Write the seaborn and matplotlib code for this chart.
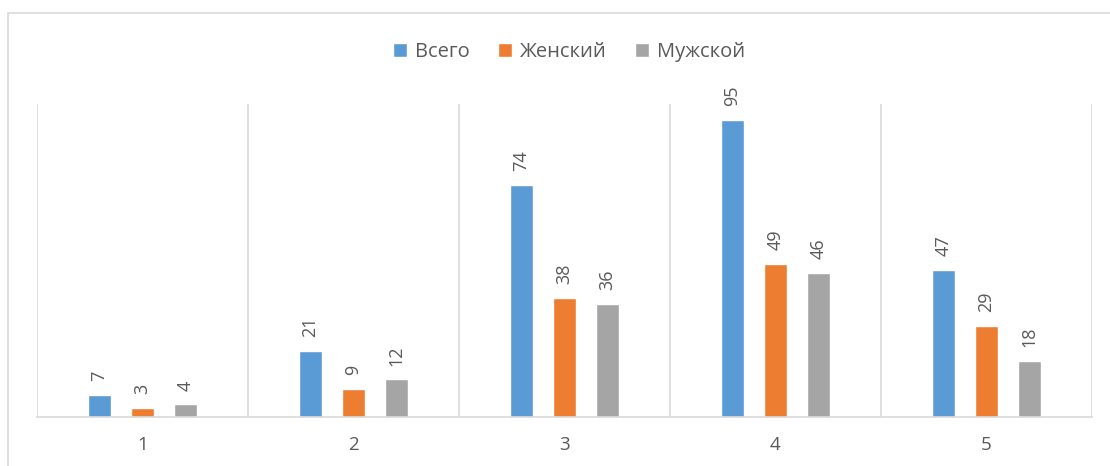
import matplotlib
matplotlib.use("Agg")
import matplotlib.pyplot as plt
from matplotlib.patches import Rectangle
from matplotlib.ticker import FixedLocator
import seaborn as sns
import pandas as pd

# Data
categories = ["1", "2", "3", "4", "5"]
series_names = ["Всего", "Женский", "Мужской"]
total = [7, 21, 74, 95, 47]
female = [3, 9, 38, 49, 29]
male = [4, 12, 36, 46, 18]

colors = ["#5B9BD5", "#ED7D31", "#A5A5A5"]
text_color = "#595959"
grid_color = "#D9D9D9"

rows = []
for name, vals in zip(series_names, [total, female, male]):
    for cat, v in zip(categories, vals):
        rows.append({"cat": cat, "series": name, "value": v})
df = pd.DataFrame(rows)

sns.set_theme(style="white")
plt.rcParams["font.family"] = ["Open Sans", "DejaVu Sans"]

fig = plt.figure(figsize=(11.1, 4.66), dpi=100)
ax = fig.add_axes([37 / 1110, 49 / 466, 1055 / 1110, 313 / 466])

sns.barplot(data=df, x="cat", y="value", hue="series", order=categories,
            hue_order=series_names, palette=colors, width=0.612, gap=0.465,
            saturation=1, ax=ax, errorbar=None)

ax.set_xlim(-0.5, 4.5)
ax.set_ylim(0, 100)
ax.set_xlabel("")
ax.set_ylabel("")
ax.set_yticks([])

# Vertical gridlines on category boundaries
ax.xaxis.set_minor_locator(FixedLocator([i - 0.5 for i in range(len(categories) + 1)]))
ax.grid(which="minor", axis="x", color=grid_color, linewidth=1.2)
ax.grid(which="major", visible=False)
ax.tick_params(axis="x", which="both", length=0, colors=text_color,
               labelsize=13.5, pad=14)

for side in ["left", "right", "top"]:
    ax.spines[side].set_visible(False)
ax.spines["bottom"].set_color(grid_color)
ax.spines["bottom"].set_linewidth(1.2)

for cont in ax.containers:
    ax.bar_label(cont, fmt="%d", rotation=90, padding=10,
                 color=text_color, fontsize=13)

sns.move_legend(ax, "center", bbox_to_anchor=(569 / 1110, 1 - 52 / 466),
                bbox_transform=fig.transFigure, ncol=3, frameon=False,
                title=None, fontsize=14.5, handlelength=0.7, handleheight=0.7,
                handletextpad=0.4, columnspacing=1.4, labelcolor=text_color)

# Chart area frame
fig.patches.append(Rectangle((8 / 1110, -0.1), 1.2, 1.1 - 13 / 466,
                             transform=fig.transFigure, fill=False,
                             edgecolor=grid_color, linewidth=1.2))

fig.savefig("out.png", dpi=100)
